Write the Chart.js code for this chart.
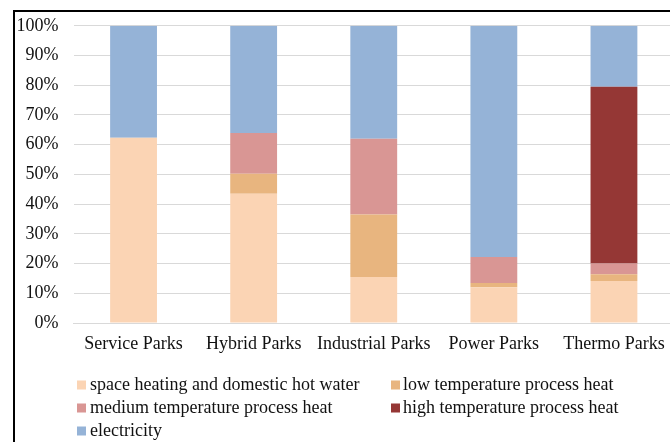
<!DOCTYPE html>
<html><head><meta charset="utf-8">
<script src="https://cdn.jsdelivr.net/npm/chart.js@4"></script>
<style>
html,body{margin:0;padding:0;overflow:hidden;background:#fff;width:670px;height:442px}
#frame{position:absolute;left:13px;top:10px;width:720px;height:500px;border-left:2px solid #000;border-top:2px solid #000;pointer-events:none}
canvas{position:absolute;left:0;top:0}
</style></head>
<body>
<canvas id="c" width="700" height="442"></canvas>
<div id="frame"></div>
<script>
const categories = ["Service Parks","Hybrid Parks","Industrial Parks","Power Parks","Thermo Parks"];
const seriesNames = ["space heating and domestic hot water","low temperature process heat","medium temperature process heat","high temperature process heat","electricity"];
const spaceHeating = [62.3, 43.5, 15.5, 12.0, 14.1];
const lowTemp      = [0,    6.7, 21.0, 1.5, 2.3];
const mediumTemp   = [0,   13.7, 25.5, 8.7, 3.6];
const highTemp     = [0,    0,    0,   0,   59.5];
const electricity  = [37.7, 36.1, 38.0, 77.8, 20.5];
const yTicks = [0,10,20,30,40,50,60,70,80,90,100];
const colors = ["#FBD4B4","#E8B57F","#D99694","#953735","#95B3D7"];

const FONT = "'Liberation Serif','Times New Roman',serif";
const values = [spaceHeating, lowTemp, mediumTemp, highTemp, electricity];

const legendPlugin = {
  id: 'customLegend',
  afterDraw(chart) {
    const ctx = chart.ctx;
    const pos = [[77,90,385],[391,403,385],[77,90,408],[391,403,408],[77,90,431]];
    ctx.save();
    ctx.font = "18px " + FONT;
    ctx.textBaseline = 'middle';
    ctx.textAlign = 'left';
    chart.data.datasets.forEach((ds, i) => {
      const [bx, tx, y] = pos[i];
      ctx.fillStyle = ds.backgroundColor;
      ctx.fillRect(bx, y - 4.5, 9, 9);
      ctx.fillStyle = '#111';
      ctx.fillText(ds.label, tx, y);
    });
    ctx.restore();
  }
};

new Chart(document.getElementById('c'), {
  type: 'bar',
  data: {
    labels: categories,
    datasets: seriesNames.map((n, i) => ({
      label: n,
      data: values[i],
      backgroundColor: colors[i],
      borderWidth: 0,
      categoryPercentage: 1,
      barPercentage: 0.39
    }))
  },
  options: {
    responsive: false,
    animation: false,
    devicePixelRatio: 1,
    layout: { padding: { left: 0, right: 26, top: 25, bottom: 0 } },
    plugins: { legend: { display: false }, tooltip: { enabled: false } },
    scales: {
      x: {
        stacked: true,
        grid: { display: false, drawTicks: false },
        border: { display: true, color: '#d9d9d9', width: 1 },
        ticks: { color: '#111', font: { family: FONT, size: 18 }, padding: 10, maxRotation: 0, autoSkip: false },
        afterFit(s) { s.height = 119; }
      },
      y: {
        stacked: true,
        min: 0, max: 100,
        afterBuildTicks(s) { s.ticks = yTicks.map(v => ({ value: v })); },
        grid: { color: '#d9d9d9', lineWidth: 1, drawTicks: false },
        border: { display: false },
        ticks: { color: '#111', font: { family: FONT, size: 18 }, padding: 15, callback: v => v + '%' },
        afterFit(s) { s.width = 73.5; }
      }
    }
  },
  plugins: [legendPlugin]
});
</script>
</body></html>
